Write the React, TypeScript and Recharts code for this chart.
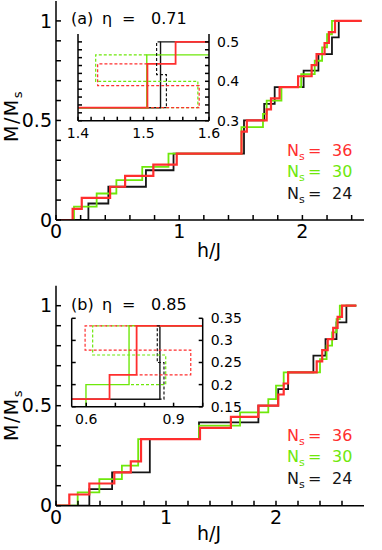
import React from 'react';
import { LineChart, Line, XAxis, YAxis } from 'recharts';

const RED = '#ff2e2e';
const GREEN = '#6ee80a';
const BLACK = '#151515';

// (a) eta = 0.71 : field h/J of every step, M/Ms after the step
const hA36 = [0, 0.135, 0.209, 0.439, 0.561, 0.79, 0.98, 1.506, 1.549, 1.71, 1.745, 1.815, 1.965, 2.075, 2.115, 2.18, 2.215, 2.265, 2.48];
const mA36 = [0, 0.056, 0.111, 0.167, 0.222, 0.278, 0.333, 0.444, 0.5, 0.556, 0.611, 0.667, 0.722, 0.778, 0.833, 0.889, 0.944, 1, 1];
const hA30 = [0, 0.146, 0.33, 0.49, 0.7, 0.913, 1.505, 1.68, 1.71, 1.83, 1.99, 2.1, 2.16, 2.2, 2.24, 2.48];
const mA30 = [0, 0.067, 0.133, 0.2, 0.267, 0.333, 0.467, 0.533, 0.6, 0.667, 0.733, 0.8, 0.867, 0.933, 1, 1];
const hA24 = [0, 0.263, 0.425, 0.73, 0.954, 1.526, 1.69, 1.775, 2.01, 2.13, 2.24, 2.295, 2.48];
const mA24 = [0, 0.083, 0.167, 0.25, 0.333, 0.5, 0.583, 0.667, 0.75, 0.833, 0.917, 1, 1];

// (a) inset, metastable branches (dashed)
const hLoopA36 = [1.506, 1.43, 1.43, 1.585, 1.585, 1.506];
const mLoopA36 = [0.444, 0.444, 0.389, 0.389, 0.333, 0.333];
const hLoopA30 = [1.505, 1.427, 1.427, 1.583, 1.583, 1.505];
const mLoopA30 = [0.467, 0.467, 0.4, 0.4, 0.333, 0.333];
const hLoopA24 = [1.526, 1.52, 1.52, 1.535, 1.535, 1.526];
const mLoopA24 = [0.5, 0.5, 0.417, 0.417, 0.333, 0.333];

// (b) eta = 0.85
const hB36 = [0, 0.121, 0.303, 0.53, 0.68, 0.773, 1.309, 1.59, 1.84, 2.02, 2.07, 2.11, 2.37, 2.42, 2.47, 2.52, 2.56, 2.6, 2.73];
const mB36 = [0, 0.056, 0.111, 0.167, 0.222, 0.333, 0.389, 0.444, 0.5, 0.556, 0.611, 0.667, 0.722, 0.778, 0.833, 0.889, 0.944, 1, 1];
const hB30 = [0, 0.197, 0.394, 0.599, 0.747, 1.3, 1.673, 1.93, 2.0, 2.07, 2.4, 2.46, 2.51, 2.55, 2.58, 2.73];
const mB30 = [0, 0.067, 0.133, 0.2, 0.333, 0.4, 0.467, 0.533, 0.6, 0.667, 0.733, 0.8, 0.867, 0.933, 1, 1];
const hB24 = [0, 0.303, 0.51, 0.853, 1.3, 1.84, 2.02, 2.11, 2.34, 2.45, 2.55, 2.64, 2.73];
const mB24 = [0, 0.083, 0.167, 0.333, 0.417, 0.5, 0.583, 0.667, 0.75, 0.833, 0.917, 1, 1];

const hLoopB36 = [0.775, 0.596, 0.596, 0.959, 0.959, 0.775];
const mLoopB36 = [0.333, 0.333, 0.278, 0.278, 0.222, 0.222];
const hLoopB30 = [0.747, 0.622, 0.622, 0.873, 0.873, 0.747];
const mLoopB30 = [0.333, 0.333, 0.267, 0.267, 0.2, 0.2];
const hLoopB24 = [0.853, 0.844, 0.844, 0.867, 0.867, 0.853];
const mLoopB24 = [0.333, 0.333, 0.25, 0.25, 0.167, 0.167];

// ticks
const xTicksA = [0, 0.2, 0.4, 0.6, 0.8, 1, 1.2, 1.4, 1.6, 1.8, 2, 2.2, 2.4];
const xTicksB = [0, 0.2, 0.4, 0.6, 0.8, 1, 1.2, 1.4, 1.6, 1.8, 2, 2.2, 2.4, 2.6];
const xLabels = [0, 1, 2];
const yTicks = [0, 0.1, 0.2, 0.3, 0.4, 0.5, 0.6, 0.7, 0.8, 0.9, 1];
const yLabels = [0, 0.5, 1];
const xTicksInA = [1.4, 1.42, 1.44, 1.46, 1.48, 1.5, 1.52, 1.54, 1.56, 1.58, 1.6];
const xLabelsInA = [1.4, 1.5, 1.6];
const yTicksInA = [0.3, 0.32, 0.34, 0.36, 0.38, 0.4, 0.42, 0.44, 0.46, 0.48, 0.5];
const yLabelsInA = [0.3, 0.4, 0.5];
const xTicksInB = [0.6, 0.7, 0.8, 0.9, 1];
const xLabelsInB = [0.6, 0.9];
const yTicksInB = [0.15, 0.2, 0.25, 0.3, 0.35];

const pts = (h: number[], m: number[]) => h.map((x, i) => ({ h: x, m: m[i] }));
const only = (labels: number[]) => (v: number) =>
  labels.some((l) => Math.abs(l - v) < 1e-9) ? String(v) : '';
const none = () => '';

const FONT = 'DejaVu Sans';
const tickMain = { fill: '#000', fontSize: 19, fontFamily: FONT };
const tickInset = { fill: '#000', fontSize: 14, fontFamily: FONT };

const frame = (
  xDomain: [number, number], yDomain: [number, number],
  xTicks: number[], yTicks: number[],
  xFmt: (v: number) => string, yFmt: (v: number) => string,
  o: { leftW: number; rightW: number; bottomH: number; size: number; xMargin: number; yMargin: number; tick: object; labelRight: boolean }
) => [
  <XAxis key="xb" xAxisId="b" type="number" dataKey="h" domain={xDomain} ticks={xTicks} interval={0}
    tickFormatter={xFmt} height={o.bottomH} tickSize={-o.size} tickMargin={o.xMargin}
    allowDataOverflow stroke="#000" strokeWidth={1.5} tick={o.tick} />,
  <XAxis key="xt" xAxisId="t" orientation="top" type="number" dataKey="h" domain={xDomain} ticks={xTicks}
    interval={0} tickFormatter={none} height={0} tickSize={-o.size} allowDataOverflow stroke="#000" strokeWidth={1.5} />,
  <YAxis key="yl" yAxisId="l" type="number" domain={yDomain} ticks={yTicks} interval={0}
    tickFormatter={o.labelRight ? none : yFmt} width={o.leftW} tickSize={-o.size} tickMargin={o.yMargin}
    allowDataOverflow stroke="#000" strokeWidth={1.5} tick={o.tick} />,
  <YAxis key="yr" yAxisId="r" orientation="right" type="number" domain={yDomain} ticks={yTicks} interval={0}
    tickFormatter={o.labelRight ? yFmt : none} width={o.rightW} tickSize={-o.size} tickMargin={o.yMargin}
    allowDataOverflow stroke="#000" strokeWidth={1.5} tick={o.tick} />,
];

// red drawn last and a bit wider, so it stays red where the curves coincide
const series = (sets: [number[], number[], string][], w: number, dash?: string) =>
  sets.map(([h, m, c], i) => (
    <Line key={`${dash ? 'd' : 's'}${i}`} xAxisId="b" yAxisId="l" data={pts(h, m)} dataKey="m"
      type={dash ? 'linear' : 'stepAfter'} stroke={c} strokeWidth={c === RED && !dash ? w + 0.4 : w}
      strokeDasharray={dash} dot={false} activeDot={false} isAnimationActive={false} />
  ));

const Legend = ({ y }: { y: number }) => (
  <g fontFamily={FONT} fontSize={16}>
    {[['36', RED], ['30', GREEN], ['24', BLACK]].map(([n, c], i) => (
      <g key={n} fill={c}>
        <text x={287} y={y + i * 21.7}>N<tspan fontSize={11} dy={4}>s</tspan></text>
        <text x={308} y={y + i * 21.7}>=</text>
        <text x={332} y={y + i * 21.7}>{n}</text>
      </g>
    ))}
  </g>
);

const Titles = ({ tag, eta, y }: { tag: string; eta: string; y: number }) => (
  <g fontFamily={FONT} fontSize={16} fill="#000">
    <text x={71} y={y}>{tag}</text>
    <text x={102} y={y}>η</text>
    <text x={122} y={y}>=</text>
    <text x={151} y={y}>{eta}</text>
  </g>
);

const AxisTitles = ({ xy, my }: { xy: number; my: number }) => (
  <g fontFamily={FONT} fontSize={19} fill="#000">
    <text x={209} y={xy} textAnchor="middle">h/J</text>
    <text x={18} y={my} textAnchor="middle" letterSpacing={1.5} transform={`rotate(-90, 18, ${my})`}>
      M/M<tspan fontSize={13} dy={4}>s</tspan>
    </text>
  </g>
);

export default function App() {
  const mainOpts = { leftW: 56, rightW: 0, size: 5, xMargin: 10, yMargin: 9, tick: tickMain, labelRight: false };
  return (
    <div style={{ position: 'absolute', left: 0, top: 0, width: 382, height: 550, background: '#fff' }}>
      <div style={{ position: 'absolute', left: 0, top: 0 }}>
        <LineChart width={382} height={275} margin={{ top: 1, right: 18, bottom: 0, left: 0 }}>
          {frame([0, 2.5], [0, 1.1], xTicksA, yTicks, only(xLabels), only(yLabels), { ...mainOpts, bottomH: 55 })}
          {series([[hA24, mA24, BLACK], [hA30, mA30, GREEN], [hA36, mA36, RED]], 1.8)}
          <Titles tag="(a)" eta="0.71" y={24} />
          <Legend y={155.5} />
          <AxisTitles xy={257} my={116} />
        </LineChart>
      </div>
      <div style={{ position: 'absolute', left: 60, top: 20 }}>
        <LineChart width={190} height={130} margin={{ top: 14, right: 0, bottom: 0, left: 0 }}>
          {frame([1.4, 1.6], [0.3, 0.52], xTicksInA, yTicksInA, only(xLabelsInA), only(yLabelsInA),
            { leftW: 18, rightW: 41, bottomH: 29.3, size: 4, xMargin: 11, yMargin: 12, tick: tickInset, labelRight: true })}
          {series([[hA24, mA24, BLACK], [hA30, mA30, GREEN], [hA36, mA36, RED]], 1.4)}
          {series([[hLoopA24, mLoopA24, BLACK], [hLoopA30, mLoopA30, GREEN], [hLoopA36, mLoopA36, RED]], 1.2, '3 2')}
        </LineChart>
      </div>
      <div style={{ position: 'absolute', left: 0, top: 275 }}>
        <LineChart width={382} height={275} margin={{ top: 10.7, right: 18, bottom: 0, left: 0 }}>
          {frame([0, 2.8], [0, 1.1], xTicksB, yTicks, only(xLabels), only(yLabels), { ...mainOpts, bottomH: 44.3 })}
          {series([[hB24, mB24, BLACK], [hB30, mB30, GREEN], [hB36, mB36, RED]], 1.8)}
          <Titles tag="(b)" eta="0.85" y={35} />
          <Legend y={165.5} />
          <AxisTitles xy={265} my={140} />
        </LineChart>
      </div>
      <div style={{ position: 'absolute', left: 55, top: 300 }}>
        <LineChart width={200} height={135} margin={{ top: 18.3, right: 0, bottom: 0, left: 0 }}>
          {frame([0.55, 1.0], [0.15, 0.35], xTicksInB, yTicksInB, only(xLabelsInB), only(yTicksInB),
            { leftW: 16.7, rightW: 52.3, bottomH: 28.3, size: 4, xMargin: 11, yMargin: 12, tick: tickInset, labelRight: true })}
          {series([[hB24, mB24, BLACK], [hB30, mB30, GREEN], [hB36, mB36, RED]], 1.4)}
          {series([[hLoopB24, mLoopB24, BLACK], [hLoopB30, mLoopB30, GREEN], [hLoopB36, mLoopB36, RED]], 1.2, '3 2')}
        </LineChart>
      </div>
    </div>
  );
}
